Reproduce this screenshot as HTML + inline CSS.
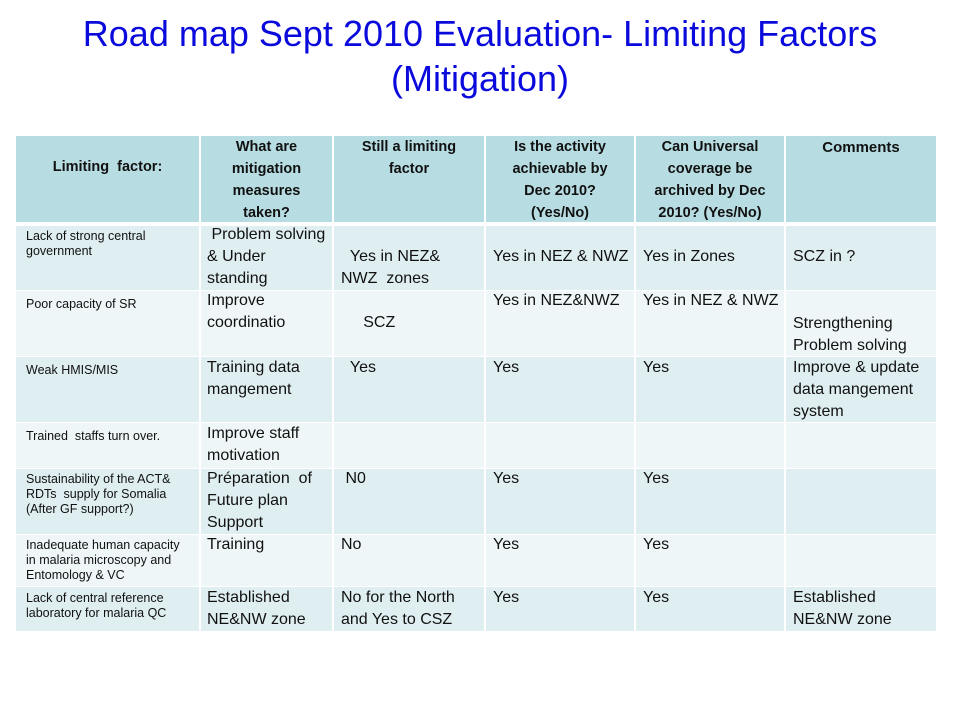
<!DOCTYPE html>
<html><head><meta charset="utf-8"><style>
body{margin:0;width:960px;height:720px;background:#fff;position:relative;overflow:hidden;font-family:"Liberation Sans",Arial,sans-serif}
.t{position:absolute;left:0;width:960px;text-align:center;color:#0a0adc;font-size:36px;line-height:45px}
.c{position:absolute}
.h{background:#b7dde2}
.a{background:#dfeef1}
.b{background:#eef6f8}
.x{position:absolute;font-size:16px;line-height:22px;color:#111;white-space:nowrap}
.s{position:absolute;font-size:12.5px;line-height:15px;color:#111;white-space:nowrap}
.hd{position:absolute;font-size:14.5px;line-height:22px;font-weight:bold;text-align:center;color:#111;white-space:nowrap}
</style></head><body>
<div class="t" style="top:11px">Road map Sept 2010 Evaluation- Limiting Factors<br>(Mitigation)</div>
<div>
<div class="c h" style="left:16px;top:136px;width:183px;height:86px"></div>
<div class="c h" style="left:201px;top:136px;width:131px;height:86px"></div>
<div class="c h" style="left:334px;top:136px;width:150px;height:86px"></div>
<div class="c h" style="left:486px;top:136px;width:148px;height:86px"></div>
<div class="c h" style="left:636px;top:136px;width:148px;height:86px"></div>
<div class="c h" style="left:786px;top:136px;width:150px;height:86px"></div>
<div class="hd" style="left:16px;top:156px;width:183px">Limiting&nbsp; factor:</div>
<div class="hd" style="left:201px;top:136px;width:131px">What are<br>mitigation<br>measures<br>taken?</div>
<div class="hd" style="left:334px;top:136px;width:150px">Still a limiting<br>factor</div>
<div class="hd" style="left:486px;top:136px;width:148px">Is the activity<br>achievable by<br>Dec 2010?<br>(Yes/No)</div>
<div class="hd" style="left:636px;top:136px;width:148px">Can Universal<br>coverage be<br>archived by Dec<br>2010? (Yes/No)</div>
<div class="hd" style="left:786px;top:137px;width:150px;font-size:15px">Comments</div>

<div id="rows"></div>

<div class="s" style="left:26px;top:229px">Lack of strong central<br>government</div>
<div class="x" style="left:207px;top:224px">&nbsp;Problem solving<br>&amp; Under<br>standing</div>
<div class="x" style="left:341px;top:246px">&nbsp;&nbsp;Yes in NEZ&amp;<br>NWZ&nbsp; zones</div>
<div class="x" style="left:493px;top:246px">Yes in NEZ &amp; NWZ</div>
<div class="x" style="left:643px;top:246px">Yes in Zones</div>
<div class="x" style="left:793px;top:246px">SCZ in ?</div>

<div class="s" style="left:26px;top:297px">Poor capacity of SR</div>
<div class="x" style="left:207px;top:290px">Improve<br>coordinatio</div>
<div class="x" style="left:341px;top:312px">&nbsp;&nbsp;&nbsp;&nbsp;&nbsp;SCZ</div>
<div class="x" style="left:493px;top:290px">Yes in NEZ&amp;NWZ</div>
<div class="x" style="left:643px;top:290px">Yes in NEZ &amp; NWZ</div>
<div class="x" style="left:793px;top:313px">Strengthening<br>Problem solving</div>

<div class="s" style="left:26px;top:363px">Weak HMIS/MIS</div>
<div class="x" style="left:207px;top:357px">Training data<br>mangement</div>
<div class="x" style="left:341px;top:357px">&nbsp;&nbsp;Yes</div>
<div class="x" style="left:493px;top:357px">Yes</div>
<div class="x" style="left:643px;top:357px">Yes</div>
<div class="x" style="left:793px;top:357px">Improve &amp; update<br>data mangement<br>system</div>

<div class="s" style="left:26px;top:429px">Trained&nbsp; staffs turn over.</div>
<div class="x" style="left:207px;top:423px">Improve staff<br>motivation</div>

<div class="s" style="left:26px;top:472px">Sustainability of the ACT&amp;<br>RDTs&nbsp; supply for Somalia<br>(After GF support?)</div>
<div class="x" style="left:207px;top:468px">Préparation&nbsp; of<br>Future plan<br>Support</div>
<div class="x" style="left:341px;top:468px">&nbsp;N0</div>
<div class="x" style="left:493px;top:468px">Yes</div>
<div class="x" style="left:643px;top:468px">Yes</div>

<div class="s" style="left:26px;top:538px">Inadequate human capacity<br>in malaria microscopy and<br>Entomology &amp; VC</div>
<div class="x" style="left:207px;top:534px">Training</div>
<div class="x" style="left:341px;top:534px">No</div>
<div class="x" style="left:493px;top:534px">Yes</div>
<div class="x" style="left:643px;top:534px">Yes</div>

<div class="s" style="left:26px;top:591px">Lack of central reference<br>laboratory for malaria QC</div>
<div class="x" style="left:207px;top:587px">Established<br>NE&amp;NW zone</div>
<div class="x" style="left:341px;top:587px">No for the North<br>and Yes to CSZ</div>
<div class="x" style="left:493px;top:587px">Yes</div>
<div class="x" style="left:643px;top:587px">Yes</div>
<div class="x" style="left:793px;top:587px">Established<br>NE&amp;NW zone</div>
</div>
<script>
var rowTops=[226,291,357,423,469,535,587];
var rowBottoms=[290,356,422,468,534,586,631];
var colL=[16,201,334,486,636,786];
var colR=[199,332,484,634,784,936];
var host=document.getElementById('rows');
for(var r=0;r<rowTops.length;r++){
  for(var c=0;c<colL.length;c++){
    var d=document.createElement('div');
    d.className='c '+(r%2===0?'a':'b');
    d.style.left=colL[c]+'px';d.style.top=rowTops[r]+'px';
    d.style.width=(colR[c]-colL[c])+'px';d.style.height=(rowBottoms[r]-rowTops[r])+'px';
    
    
    host.appendChild(d);
  }
}
</script>
</body></html>
